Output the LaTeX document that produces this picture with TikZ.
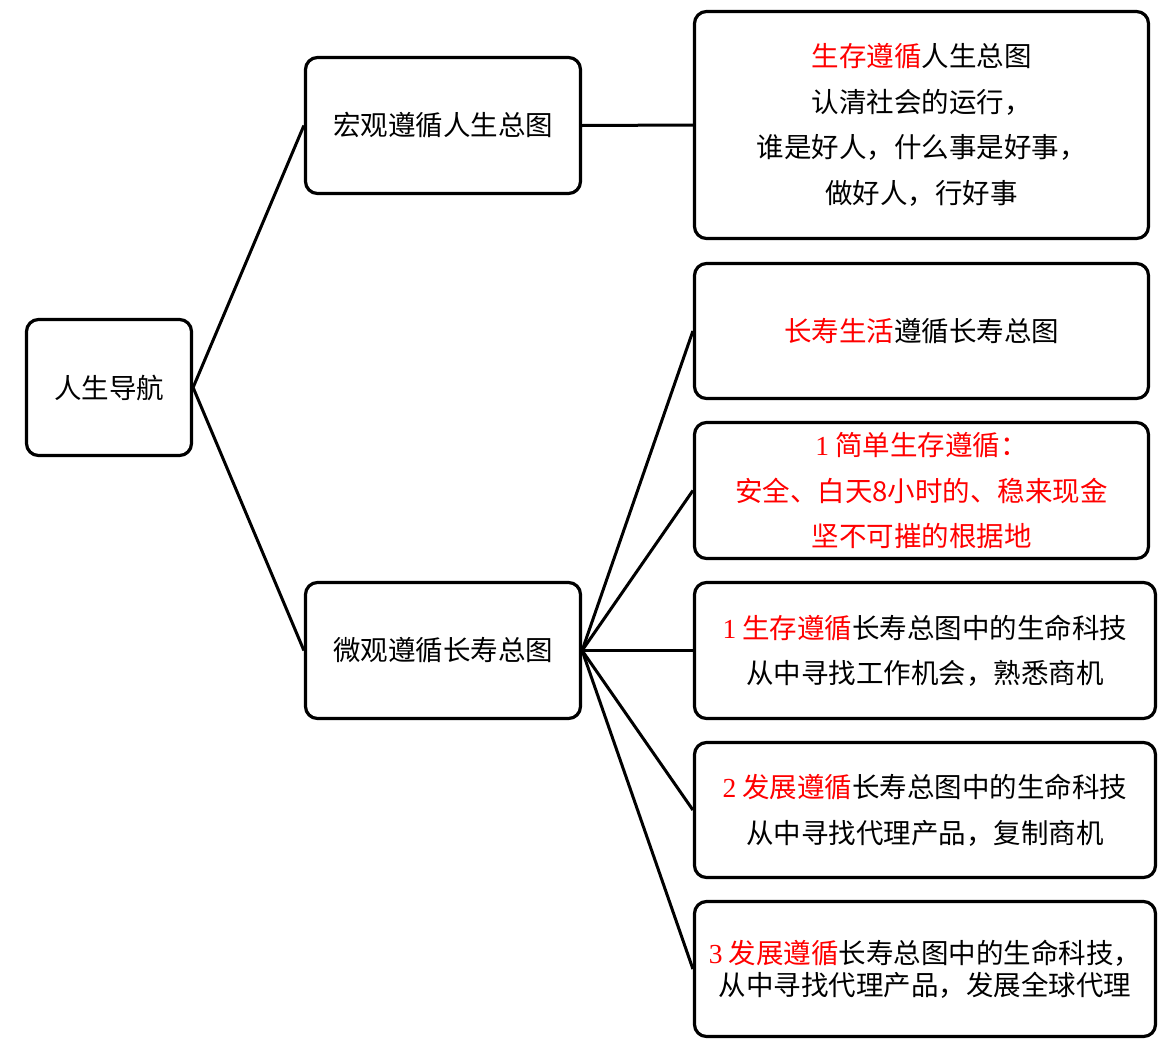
\documentclass[tikz,border=0pt]{standalone}
\usepackage{fontspec}
\setmainfont{Liberation Serif}
\newfontfamily\cjk{Noto Sans CJK SC}
\usepackage{tikz}

\begin{document}
\begin{tikzpicture}[x=1pt,y=-1pt]
							\tikzstyle{box}=[draw=black,line width=3.2pt,rounded corners=12pt,inner sep=0pt,align=center,font=\cjk\fontsize{27.5}{45.5}\selectfont]
							\tikzstyle{link}=[line width=3pt]
							\useasboundingbox (0,0) rectangle (1174,1052);
							\node[box,minimum width=165pt,minimum height=136pt] (1) at (109,387.5) {人生导航};
							\node[box,minimum width=275pt,minimum height=136pt] (2) at (443,125.5) {宏观遵循人生总图};
							\node[box,minimum width=275pt,minimum height=136pt] (3) at (443,650.5) {微观遵循长寿总图};
							\node[box,minimum width=454pt,minimum height=227pt] (4) at (921.5,125) {\textcolor{red}{生存遵循}人生总图\\认清社会的运行，\\谁是好人，什么事是好事，\\做好人，行好事};
							\node[box,minimum width=454pt,minimum height=135pt] (5) at (921.5,331) {\textcolor{red}{长寿生活}遵循长寿总图};
							\node[box,minimum width=454pt,minimum height=136pt,text=red] (6) at (921.5,490.5) {{\rmfamily 1} 简单生存遵循：\\安全、白天8小时的、稳来现金\\坚不可摧的根据地};
							\node[box,minimum width=461pt,minimum height=136pt] (7) at (925,650.5) {\textcolor{red}{{\rmfamily 1} 生存遵循}长寿总图中的生命科技\\从中寻找工作机会，熟悉商机};
							\node[box,minimum width=461pt,minimum height=135pt] (8) at (925,810) {\textcolor{red}{{\rmfamily 2} 发展遵循}长寿总图中的生命科技\\从中寻找代理产品，复制商机};
							\node[box,minimum width=461pt,minimum height=135pt,font=\cjk\fontsize{27.5}{32}\selectfont] (9) at (925,969) {\textcolor{red}{{\rmfamily 3} 发展遵循}长寿总图中的生命科技，\\从中寻找代理产品，发展全球代理};
							\draw[link] (1.east) -- (2.west);
							\draw[link] (1.east) -- (3.west);
							\draw[link] (2.east) -- (4.west);
							\draw[link] (3.east) -- (5.west);
							\draw[link] (3.east) -- (6.west);
							\draw[link] (3.east) -- (7.west);
							\draw[link] (3.east) -- (8.west);
							\draw[link] (3.east) -- (9.west);
							\end{tikzpicture}
\end{document}
